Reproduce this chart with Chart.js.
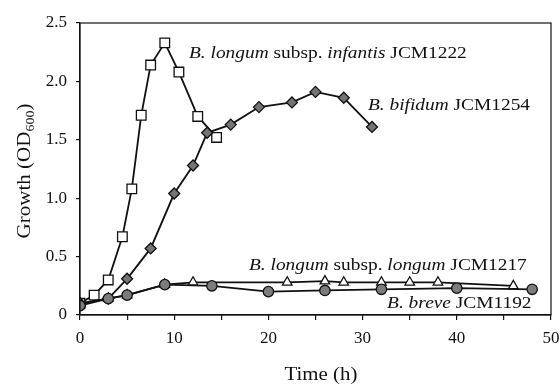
<!DOCTYPE html>
<html>
<head>
<meta charset="utf-8">
<script src="https://cdn.jsdelivr.net/npm/chart.js@4/dist/chart.umd.min.js"></script>
<style>
  html, body { margin: 0; padding: 0; background: #fff; }
  #wrap { width: 560px; height: 384px; }
</style>
</head>
<body>
<div id="wrap"><canvas id="growthChart" width="560" height="384"></canvas></div>
<script>
// growth curves (time in h, OD600)
const infantisTime = [0, 1.5, 3, 4.5, 5.5, 6.5, 7.5, 9, 10.5, 12.5, 14.5];
const infantisOD   = [0.10, 0.17, 0.30, 0.67, 1.08, 1.71, 2.14, 2.33, 2.08, 1.70, 1.52];

const bifidumTime = [0, 3, 5, 7.5, 10, 12, 13.5, 16, 19, 22.5, 25, 28, 31];
const bifidumOD   = [0.10, 0.14, 0.31, 0.57, 1.04, 1.28, 1.56, 1.63, 1.78, 1.82, 1.91, 1.86, 1.61];

const longumTime = [0, 3, 5, 9, 12, 22, 26, 28, 32, 35, 38, 46];
const longumOD   = [0.10, 0.14, 0.17, 0.26, 0.28, 0.28, 0.29, 0.28, 0.28, 0.28, 0.28, 0.25];

const breveTime = [0, 3, 5, 9, 14, 20, 26, 32, 40, 48];
const breveOD   = [0.08, 0.14, 0.17, 0.26, 0.25, 0.20, 0.21, 0.22, 0.23, 0.22];

const yTicks = [0, 0.5, 1.0, 1.5, 2.0, 2.5];

// curve labels: [text, italic?] parts and anchor (x, y in data units)
const labels = [
  { parts: [['B. longum', 'i'], [' subsp. ', 'n'], ['infantis', 'i'], [' JCM1222', 'n']], x: 11.57, y: 2.20 },
  { parts: [['B. bifidum', 'i'], [' JCM1254', 'n']], x: 30.57, y: 1.755 },
  { parts: [['B. longum', 'i'], [' subsp. ', 'n'], ['longum', 'i'], [' JCM1217', 'n']], x: 17.94, y: 0.385 },
  { parts: [['B. breve', 'i'], [' JCM1192', 'n']], x: 32.6, y: 0.06 }
];

const serif = '"Liberation Serif", "Times New Roman", serif';
const stretch = 1.14; // the original type is set a bit wide

function toPoints(xs, ys) {
  return xs.map((x, i) => ({ x: x, y: ys[i] }));
}

// draws the frame, the curve labels and the axis titles
const figureText = {
  id: 'figureText',
  afterDraw(chart) {
    const ctx = chart.ctx;
    const area = chart.chartArea;
    const xs = chart.scales.x;
    const ys = chart.scales.y;
    ctx.save();
    ctx.strokeStyle = '#111';
    ctx.lineWidth = 1.2;
    ctx.strokeRect(area.left, area.top, area.right - area.left, area.bottom - area.top);

    ctx.fillStyle = '#111';
    ctx.textBaseline = 'alphabetic';
    ctx.textAlign = 'left';
    labels.forEach(l => {
      const px = xs.getPixelForValue(l.x);
      const py = ys.getPixelForValue(l.y);
      ctx.save();
      ctx.translate(px, py);
      ctx.scale(stretch, 1);
      let off = 0;
      l.parts.forEach(p => {
        ctx.font = (p[1] === 'i' ? 'italic ' : '') + '17px ' + serif;
        ctx.fillText(p[0], off, 0);
        off += ctx.measureText(p[0]).width;
      });
      ctx.restore();
    });

    // x title
    ctx.save();
    ctx.translate(321, 380);
    ctx.scale(1.16, 1);
    ctx.font = '18px ' + serif;
    ctx.textAlign = 'center';
    ctx.fillText('Time (h)', 0, 0);
    ctx.restore();

    // y title with subscript
    ctx.save();
    ctx.translate(30, 171);
    ctx.rotate(-Math.PI / 2);
    ctx.scale(1.17, 1);
    const main = 'Growth (OD';
    const sub = '600';
    ctx.font = '18px ' + serif;
    const w1 = ctx.measureText(main).width;
    ctx.font = '12px ' + serif;
    const w2 = ctx.measureText(sub).width;
    ctx.font = '18px ' + serif;
    const w3 = ctx.measureText(')').width;
    const start = -(w1 + w2 + w3) / 2;
    ctx.textAlign = 'left';
    ctx.fillText(main, start, 0);
    ctx.font = '12px ' + serif;
    ctx.fillText(sub, start + w1, 4);
    ctx.font = '18px ' + serif;
    ctx.fillText(')', start + w1 + w2, 0);
    ctx.restore();

    ctx.restore();
  }
};

function lineSet(name, xs, ys, style, fill, radius) {
  return {
    label: name,
    data: toPoints(xs, ys),
    borderColor: '#111',
    borderWidth: 1.8,
    pointStyle: style,
    pointRadius: radius,
    pointBackgroundColor: fill,
    pointBorderColor: '#111',
    pointBorderWidth: 1.3,
    tension: 0
  };
}

new Chart(document.getElementById('growthChart'), {
  type: 'line',
  data: {
    datasets: [
      lineSet('breve', breveTime, breveOD, 'circle', '#7c7c7c', 5.2),
      lineSet('longum', longumTime, longumOD, 'triangle', '#ffffff', 5.5),
      lineSet('bifidum', bifidumTime, bifidumOD, 'rectRot', '#747474', 5.5),
      lineSet('infantis', infantisTime, infantisOD, 'rect', '#ffffff', 6.8)
    ]
  },
  options: {
    responsive: false,
    animation: false,
    layout: { padding: { top: 23, right: 0, left: 0, bottom: 0 } },
    plugins: {
      legend: { display: false },
      tooltip: { enabled: false }
    },
    scales: {
      x: {
        type: 'linear',
        min: 0,
        max: 50,
        grid: { drawOnChartArea: false, color: '#111', tickLength: 5, lineWidth: 1.2 },
        border: { display: true, color: '#111', width: 1.2 },
        ticks: {
          stepSize: 5,
          padding: 8,
          color: '#111',
          font: { family: serif, size: 17 },
          callback: v => (v % 10 === 0 ? String(v) : '')
        },
        // let the "50" label run into the right margin, as in the original
        afterFit: s => { s.height = 69; s.paddingRight = 9; }
      },
      y: {
        type: 'linear',
        min: 0,
        max: 2.5,
        afterBuildTicks: s => { s.ticks = yTicks.map(v => ({ value: v })); },
        grid: { drawOnChartArea: false, color: '#111', tickLength: 4, lineWidth: 1.2 },
        border: { display: true, color: '#111', width: 1.2 },
        ticks: {
          padding: 9,
          color: '#111',
          font: { family: serif, size: 17 },
          callback: v => (v === 0 ? '0' : v.toFixed(1))
        },
        afterFit: s => { s.width = 80; }
      }
    }
  },
  plugins: [figureText]
});
</script>
</body>
</html>
